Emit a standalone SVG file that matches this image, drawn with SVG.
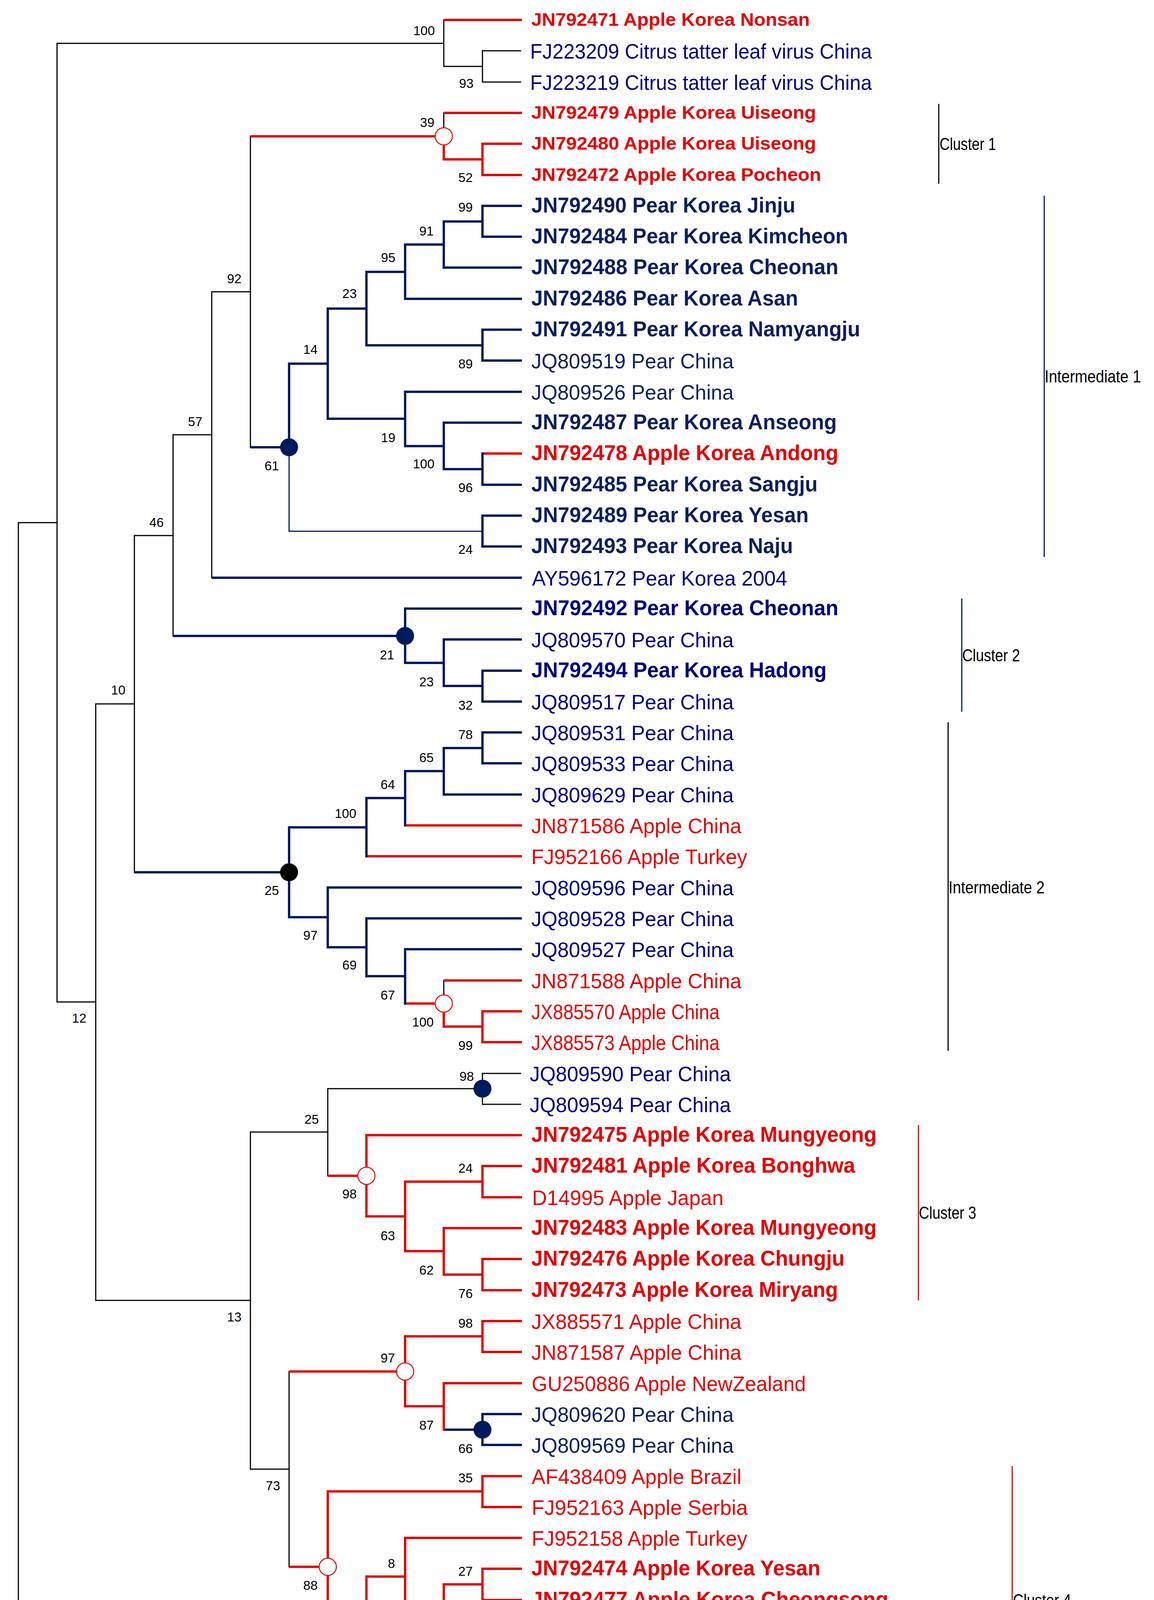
<svg xmlns="http://www.w3.org/2000/svg" width="2954" height="4549" viewBox="0 0 2954 4549">
<style>
.k{fill:none;stroke:#000;stroke-width:3}
.r{fill:none;stroke:#e30000;stroke-width:6}
.n{fill:none;stroke:#001a5e;stroke-width:6}
.nt{fill:none;stroke:#001a5e;stroke-width:3}
.v{stroke-linecap:square}
.h{stroke-linecap:butt}
text{font-family:"Liberation Sans",Arial,sans-serif}
.b{font-weight:bold;font-size:56px}
.bs{font-weight:bold;font-size:46px}
.m{font-size:54px}
.fr{fill:#e30000}
.fn{fill:#0d1f5f}
.fb{fill:#000080}
.fk{fill:#000}
.bt{font-size:33px;fill:#000;text-anchor:end}
.cl{font-size:44px;fill:#000}
.oc{fill:#fff;stroke:#e30000;stroke-width:2.5}
.fcn{fill:#001a5e}
.fck{fill:#000}
</style>
<rect width="2954" height="4549" fill="#fff"/>
<g id="connectors">
<path class="k v" d="M47,1338V4492 M146,111V2565 M1136,51V170 M1235,130V210 M245,1802V3329 M344,1371V2233 M443,1113V1628 M542,747V1479 M641,349V1145 M1136,289V349 M1136,2510V2569 M641,2898V3761 M839,2787V3010 M1235,2748V2827 M740,3511V4011"/>
<path class="k h" d="M47,1338H146 M47,4492H1334 M146,111H1136 M146,2565H245 M1136,170H1235 M1235,130H1334 M1235,210H1334 M245,1802H344 M245,3329H641 M344,1371H443 M443,1113H542 M542,747H641 M641,2898H839 M641,3761H740 M839,2787H1235 M1235,2748H1334 M1235,2827H1334"/>
<path class="n v" d="M740,931V1145 M839,790V1072 M938,696V884 M1037,626V765 M1136,567V685 M1235,527V606 M1235,844V923 M1037,1003V1142 M1136,1082V1201 M1235,1161V1241 M1235,1320V1399 M1037,1558V1697 M1136,1637V1756 M1235,1717V1796 M740,2118V2348 M938,2043V2192 M1037,1974V2113 M1136,1915V2034 M1235,1875V1954 M839,2272V2425 M938,2351V2499 M1037,2430V2569 M1235,3620V3699"/>
<path class="n h" d="M641,1145H740 M740,931H839 M839,790H938 M938,696H1037 M1037,626H1136 M1136,567H1235 M1235,527H1336 M1235,606H1336 M1136,685H1336 M1037,765H1336 M938,884H1235 M1235,844H1336 M1235,923H1336 M839,1072H1037 M1037,1003H1336 M1037,1142H1136 M1136,1082H1336 M1136,1201H1235 M1235,1241H1336 M1235,1320H1336 M1235,1399H1336 M542,1479H1336 M443,1628H1037 M1037,1558H1336 M1037,1697H1136 M1136,1637H1336 M1136,1756H1235 M1235,1717H1336 M1235,1796H1336 M344,2233H740 M740,2118H938 M938,2043H1037 M1037,1974H1136 M1136,1915H1235 M1235,1875H1336 M1235,1954H1336 M1136,2034H1336 M740,2348H839 M839,2272H1336 M839,2425H938 M938,2351H1336 M938,2499H1037 M1037,2430H1336 M1136,3660H1235 M1235,3620H1336 M1235,3699H1336 M1235,4254H1336"/>
<path class="nt v" d="M740,1145V1360"/>
<path class="nt h" d="M740,1360H1235"/>
<path class="r v" d="M1136,349V408 M1235,368V448 M1136,2569V2628 M1235,2589V2668 M938,2906V3114 M1037,3025V3203 M1235,2985V3065 M1136,3144V3263 M1235,3223V3303 M1037,3421V3600 M1235,3382V3461 M1136,3541V3660 M839,3818V4204 M1235,3779V3858 M938,4036V4373 M1037,3937V4135 M1136,4056V4215 M1235,4016V4096 M1235,4175V4254 M1235,4334V4413"/>
<path class="r h" d="M1136,51H1336 M641,349H1136 M1136,289H1336 M1136,408H1235 M1235,368H1336 M1235,448H1336 M1238,1161H1336 M941,2192H1336 M1040,2113H1336 M1040,2569H1136 M1136,2510H1336 M1136,2628H1235 M1235,2589H1336 M1235,2668H1336 M839,3010H938 M938,2906H1336 M938,3114H1037 M1037,3025H1235 M1235,2985H1336 M1235,3065H1336 M1037,3203H1136 M1136,3144H1336 M1136,3263H1235 M1235,3223H1336 M1235,3303H1336 M740,3511H1037 M1037,3421H1235 M1235,3382H1336 M1235,3461H1336 M1037,3600H1136 M1136,3541H1336 M740,4011H839 M839,3818H1235 M1235,3779H1336 M1235,3858H1336 M839,4204H938 M938,4036H1037 M1037,3937H1336 M1037,4135H1136 M1136,4056H1235 M1235,4016H1336 M1235,4096H1336 M1136,4215H1235 M1235,4175H1336 M938,4373H1235 M1235,4334H1336 M1235,4413H1336"/>
<path class="n h" d="M1139,3660H1235 M1238,4254H1336"/>
</g>
<g id="internal-nodes">
<g id="node-B"><text class="bt" x="1113" y="90">100</text></g>
<g id="node-B2"><text class="bt" x="1212" y="225">93</text></g>
<g id="node-J"><circle class="oc" cx="1136" cy="349" r="22"/><text class="bt" x="1112" y="325">39</text></g>
<g id="node-J2"><text class="bt" x="1210" y="466">52</text></g>
<g id="node-S"><text class="bt" x="1210" y="542">99</text></g>
<g id="node-R"><text class="bt" x="1110" y="603">91</text></g>
<g id="node-P"><text class="bt" x="1012" y="671">95</text></g>
<g id="node-I"><text class="bt" x="618" y="725">92</text></g>
<g id="node-N"><text class="bt" x="913" y="763">23</text></g>
<g id="node-L"><text class="bt" x="813" y="906">14</text></g>
<g id="node-Q"><text class="bt" x="1210" y="943">89</text></g>
<g id="node-G"><text class="bt" x="518" y="1091">57</text></g>
<g id="node-O"><text class="bt" x="1012" y="1132">19</text></g>
<g id="node-K"><circle class="fcn" cx="740" cy="1145" r="23"/><text class="bt" x="714" y="1204">61</text></g>
<g id="node-O2"><text class="bt" x="1112" y="1199">100</text></g>
<g id="node-O3"><text class="bt" x="1210" y="1260">96</text></g>
<g id="node-E"><text class="bt" x="419" y="1349">46</text></g>
<g id="node-M"><text class="bt" x="1210" y="1418">24</text></g>
<g id="node-H"><circle class="fcn" cx="1037" cy="1628" r="23"/><text class="bt" x="1009" y="1688">21</text></g>
<g id="node-H2"><text class="bt" x="1110" y="1757">23</text></g>
<g id="node-H3"><text class="bt" x="1210" y="1817">32</text></g>
<g id="node-D"><text class="bt" x="321" y="1778">10</text></g>
<g id="node-F1c"><text class="bt" x="1210" y="1892">78</text></g>
<g id="node-F1b"><text class="bt" x="1110" y="1951">65</text></g>
<g id="node-F1a"><text class="bt" x="1011" y="2020">64</text></g>
<g id="node-F1"><text class="bt" x="912" y="2094">100</text></g>
<g id="node-F"><circle class="fck" cx="740" cy="2233" r="23"/><text class="bt" x="714" y="2291">25</text></g>
<g id="node-F2"><text class="bt" x="813" y="2406">97</text></g>
<g id="node-F3"><text class="bt" x="913" y="2482">69</text></g>
<g id="node-F4"><text class="bt" x="1011" y="2559">67</text></g>
<g id="node-C"><text class="bt" x="221" y="2618">12</text></g>
<g id="node-F5"><circle class="oc" cx="1136" cy="2569" r="22"/><text class="bt" x="1110" y="2628">100</text></g>
<g id="node-F6"><text class="bt" x="1210" y="2688">99</text></g>
<g id="node-U1"><circle class="fcn" cx="1235" cy="2787" r="23"/><text class="bt" x="1213" y="2767">98</text></g>
<g id="node-U"><text class="bt" x="816" y="2877">25</text></g>
<g id="node-U4"><text class="bt" x="1210" y="3002">24</text></g>
<g id="node-U2"><circle class="oc" cx="938" cy="3010" r="22"/><text class="bt" x="913" y="3068">98</text></g>
<g id="node-U3"><text class="bt" x="1011" y="3175">63</text></g>
<g id="node-U5"><text class="bt" x="1110" y="3263">62</text></g>
<g id="node-U6"><text class="bt" x="1210" y="3323">76</text></g>
<g id="node-T"><text class="bt" x="618" y="3383">13</text></g>
<g id="node-W1"><text class="bt" x="1210" y="3399">98</text></g>
<g id="node-W"><circle class="oc" cx="1037" cy="3511" r="22"/><text class="bt" x="1011" y="3488">97</text></g>
<g id="node-W2"><text class="bt" x="1110" y="3660">87</text></g>
<g id="node-W3"><circle class="fcn" cx="1235" cy="3660" r="23"/><text class="bt" x="1210" y="3720">66</text></g>
<g id="node-X1"><text class="bt" x="1210" y="3795">35</text></g>
<g id="node-V"><text class="bt" x="717" y="3815">73</text></g>
<g id="node-X3"><text class="bt" x="1011" y="4014">8</text></g>
<g id="node-X6"><text class="bt" x="1210" y="4034">27</text></g>
<g id="node-X"><circle class="oc" cx="839" cy="4011" r="22"/><text class="bt" x="813" y="4070">88</text></g>
<g id="node-X5"><text class="bt" x="1110" y="4195">13</text></g>
<g id="node-X2"><text class="bt" x="913" y="4265">24</text></g>
<g id="node-X7"><text class="bt" x="1210" y="4274">75</text></g>
<g id="node-X4"><text class="bt" x="1210" y="4433">20</text></g>
</g>
<g id="leaves">
<g id="leaf-00"><text class="bs fr" x="1360" y="66" textLength="713" lengthAdjust="spacingAndGlyphs">JN792471 Apple Korea Nonsan</text></g>
<g id="leaf-01"><text class="m fb" x="1357" y="150" textLength="875" lengthAdjust="spacingAndGlyphs">FJ223209 Citrus tatter leaf virus China</text></g>
<g id="leaf-02"><text class="m fb" x="1357" y="230" textLength="875" lengthAdjust="spacingAndGlyphs">FJ223219 Citrus tatter leaf virus China</text></g>
<g id="leaf-03"><text class="bs fr" x="1360" y="304" textLength="729" lengthAdjust="spacingAndGlyphs">JN792479 Apple Korea Uiseong</text></g>
<g id="leaf-04"><text class="bs fr" x="1360" y="383" textLength="729" lengthAdjust="spacingAndGlyphs">JN792480 Apple Korea Uiseong</text></g>
<g id="leaf-05"><text class="bs fr" x="1360" y="463" textLength="742" lengthAdjust="spacingAndGlyphs">JN792472 Apple Korea Pocheon</text></g>
<g id="leaf-06"><text class="b fn" x="1360" y="544" textLength="676" lengthAdjust="spacingAndGlyphs">JN792490 Pear Korea Jinju</text></g>
<g id="leaf-07"><text class="b fn" x="1360" y="623" textLength="811" lengthAdjust="spacingAndGlyphs">JN792484 Pear Korea Kimcheon</text></g>
<g id="leaf-08"><text class="b fn" x="1360" y="702" textLength="786" lengthAdjust="spacingAndGlyphs">JN792488 Pear Korea Cheonan</text></g>
<g id="leaf-09"><text class="b fn" x="1360" y="782" textLength="683" lengthAdjust="spacingAndGlyphs">JN792486 Pear Korea Asan</text></g>
<g id="leaf-10"><text class="b fn" x="1360" y="861" textLength="842" lengthAdjust="spacingAndGlyphs">JN792491 Pear Korea Namyangju</text></g>
<g id="leaf-11"><text class="m fn" x="1360" y="943" textLength="518" lengthAdjust="spacingAndGlyphs">JQ809519 Pear China</text></g>
<g id="leaf-12"><text class="m fn" x="1360" y="1023" textLength="518" lengthAdjust="spacingAndGlyphs">JQ809526 Pear China</text></g>
<g id="leaf-13"><text class="b fn" x="1360" y="1099" textLength="782" lengthAdjust="spacingAndGlyphs">JN792487 Pear Korea Anseong</text></g>
<g id="leaf-14"><text class="b fr" x="1360" y="1178" textLength="786" lengthAdjust="spacingAndGlyphs">JN792478 Apple Korea Andong</text></g>
<g id="leaf-15"><text class="b fn" x="1360" y="1258" textLength="733" lengthAdjust="spacingAndGlyphs">JN792485 Pear Korea Sangju</text></g>
<g id="leaf-16"><text class="b fn" x="1360" y="1337" textLength="710" lengthAdjust="spacingAndGlyphs">JN792489 Pear Korea Yesan</text></g>
<g id="leaf-17"><text class="b fn" x="1360" y="1416" textLength="670" lengthAdjust="spacingAndGlyphs">JN792493 Pear Korea Naju</text></g>
<g id="leaf-18"><text class="m fb" x="1362" y="1499" textLength="653" lengthAdjust="spacingAndGlyphs">AY596172 Pear Korea 2004</text></g>
<g id="leaf-19"><text class="b fb" x="1360" y="1575" textLength="786" lengthAdjust="spacingAndGlyphs">JN792492 Pear Korea Cheonan</text></g>
<g id="leaf-20"><text class="m fb" x="1360" y="1657" textLength="518" lengthAdjust="spacingAndGlyphs">JQ809570 Pear China</text></g>
<g id="leaf-21"><text class="b fb" x="1360" y="1734" textLength="756" lengthAdjust="spacingAndGlyphs">JN792494 Pear Korea Hadong</text></g>
<g id="leaf-22"><text class="m fb" x="1360" y="1816" textLength="518" lengthAdjust="spacingAndGlyphs">JQ809517 Pear China</text></g>
<g id="leaf-23"><text class="m fb" x="1360" y="1895" textLength="518" lengthAdjust="spacingAndGlyphs">JQ809531 Pear China</text></g>
<g id="leaf-24"><text class="m fb" x="1360" y="1974" textLength="518" lengthAdjust="spacingAndGlyphs">JQ809533 Pear China</text></g>
<g id="leaf-25"><text class="m fb" x="1360" y="2054" textLength="518" lengthAdjust="spacingAndGlyphs">JQ809629 Pear China</text></g>
<g id="leaf-26"><text class="m fr" x="1360" y="2133" textLength="538" lengthAdjust="spacingAndGlyphs">JN871586 Apple China</text></g>
<g id="leaf-27"><text class="m fr" x="1360" y="2212" textLength="553" lengthAdjust="spacingAndGlyphs">FJ952166 Apple Turkey</text></g>
<g id="leaf-28"><text class="m fb" x="1360" y="2292" textLength="518" lengthAdjust="spacingAndGlyphs">JQ809596 Pear China</text></g>
<g id="leaf-29"><text class="m fb" x="1360" y="2371" textLength="518" lengthAdjust="spacingAndGlyphs">JQ809528 Pear China</text></g>
<g id="leaf-30"><text class="m fb" x="1360" y="2450" textLength="518" lengthAdjust="spacingAndGlyphs">JQ809527 Pear China</text></g>
<g id="leaf-31"><text class="m fr" x="1360" y="2530" textLength="538" lengthAdjust="spacingAndGlyphs">JN871588 Apple China</text></g>
<g id="leaf-32"><text class="m fr" x="1360" y="2609" textLength="482" lengthAdjust="spacingAndGlyphs">JX885570 Apple China</text></g>
<g id="leaf-33"><text class="m fr" x="1360" y="2688" textLength="482" lengthAdjust="spacingAndGlyphs">JX885573 Apple China</text></g>
<g id="leaf-34"><text class="m fb" x="1356" y="2768" textLength="515" lengthAdjust="spacingAndGlyphs">JQ809590 Pear China</text></g>
<g id="leaf-35"><text class="m fb" x="1356" y="2847" textLength="515" lengthAdjust="spacingAndGlyphs">JQ809594 Pear China</text></g>
<g id="leaf-36"><text class="b fr" x="1360" y="2923" textLength="884" lengthAdjust="spacingAndGlyphs">JN792475 Apple Korea Mungyeong</text></g>
<g id="leaf-37"><text class="b fr" x="1360" y="3002" textLength="829" lengthAdjust="spacingAndGlyphs">JN792481 Apple Korea Bonghwa</text></g>
<g id="leaf-38"><text class="m fr" x="1362" y="3085" textLength="490" lengthAdjust="spacingAndGlyphs">D14995 Apple Japan</text></g>
<g id="leaf-39"><text class="b fr" x="1360" y="3161" textLength="884" lengthAdjust="spacingAndGlyphs">JN792483 Apple Korea Mungyeong</text></g>
<g id="leaf-40"><text class="b fr" x="1360" y="3240" textLength="802" lengthAdjust="spacingAndGlyphs">JN792476 Apple Korea Chungju</text></g>
<g id="leaf-41"><text class="b fr" x="1360" y="3320" textLength="785" lengthAdjust="spacingAndGlyphs">JN792473 Apple Korea Miryang</text></g>
<g id="leaf-42"><text class="m fr" x="1360" y="3402" textLength="538" lengthAdjust="spacingAndGlyphs">JX885571 Apple China</text></g>
<g id="leaf-43"><text class="m fr" x="1360" y="3481" textLength="538" lengthAdjust="spacingAndGlyphs">JN871587 Apple China</text></g>
<g id="leaf-44"><text class="m fr" x="1361" y="3561" textLength="702" lengthAdjust="spacingAndGlyphs">GU250886 Apple NewZealand</text></g>
<g id="leaf-45"><text class="m fn" x="1360" y="3640" textLength="518" lengthAdjust="spacingAndGlyphs">JQ809620 Pear China</text></g>
<g id="leaf-46"><text class="m fn" x="1360" y="3719" textLength="518" lengthAdjust="spacingAndGlyphs">JQ809569 Pear China</text></g>
<g id="leaf-47"><text class="m fr" x="1361" y="3799" textLength="537" lengthAdjust="spacingAndGlyphs">AF438409 Apple Brazil</text></g>
<g id="leaf-48"><text class="m fr" x="1361" y="3878" textLength="553" lengthAdjust="spacingAndGlyphs">FJ952163 Apple Serbia</text></g>
<g id="leaf-49"><text class="m fr" x="1361" y="3957" textLength="552" lengthAdjust="spacingAndGlyphs">FJ952158 Apple Turkey</text></g>
<g id="leaf-50"><text class="b fr" x="1360" y="4033" textLength="740" lengthAdjust="spacingAndGlyphs">JN792474 Apple Korea Yesan</text></g>
<g id="leaf-51"><text class="b fr" x="1360" y="4113" textLength="914" lengthAdjust="spacingAndGlyphs">JN792477 Apple Korea Cheongsong</text></g>
<g id="leaf-52"><text class="m fr" x="1361" y="4195" textLength="553" lengthAdjust="spacingAndGlyphs">HQ646052 Apple Lativa</text></g>
<g id="leaf-53"><text class="m fn" x="1361" y="4274" textLength="530" lengthAdjust="spacingAndGlyphs">HQ646054 Pear Latvia</text></g>
<g id="leaf-54"><text class="b fr" x="1360" y="4351" textLength="792" lengthAdjust="spacingAndGlyphs">JN792482 Apple Korea Yeongju</text></g>
<g id="leaf-55"><text class="m fr" x="1361" y="4433" textLength="517" lengthAdjust="spacingAndGlyphs">FR692119 Apple India</text></g>
<g id="leaf-56"><text class="m fk" x="1356" y="4512" textLength="1153" lengthAdjust="spacingAndGlyphs">HE584721 Barley yellow dwarf virus PAV Pakistan</text></g>
</g>
<g id="clusters">
<g id="cluster-1"><path class="k h" d="M2403,266V470"/><text class="cl" x="2405" y="384" textLength="145" lengthAdjust="spacingAndGlyphs">Cluster 1</text></g>
<g id="intermediate-1"><path class="nt h" d="M2673,501V1426"/><text class="cl" x="2674" y="979" textLength="247" lengthAdjust="spacingAndGlyphs">Intermediate 1</text></g>
<g id="cluster-2"><path class="nt h" d="M2462,1532V1822"/><text class="cl" x="2463" y="1693" textLength="148" lengthAdjust="spacingAndGlyphs">Cluster 2</text></g>
<g id="intermediate-2"><path class="k h" d="M2427,1849V2690"/><text class="cl" x="2428" y="2287" textLength="246" lengthAdjust="spacingAndGlyphs">Intermediate 2</text></g>
<g id="cluster-3"><path class="h" stroke="#e30000" stroke-width="3" d="M2351,2880V3329"/><text class="cl" x="2352" y="3120" textLength="147" lengthAdjust="spacingAndGlyphs">Cluster 3</text></g>
<g id="cluster-4"><path class="h" stroke="#e30000" stroke-width="3" d="M2591,3753V4439"/><text class="cl" x="2593" y="4112" textLength="149" lengthAdjust="spacingAndGlyphs">Cluster 4</text></g>
<g id="outgroup"><path class="k h" d="M2617,4469V4515"/><text class="cl" x="2619" y="4503" textLength="168" lengthAdjust="spacingAndGlyphs">Outgroup</text></g>
</g>
</svg>
